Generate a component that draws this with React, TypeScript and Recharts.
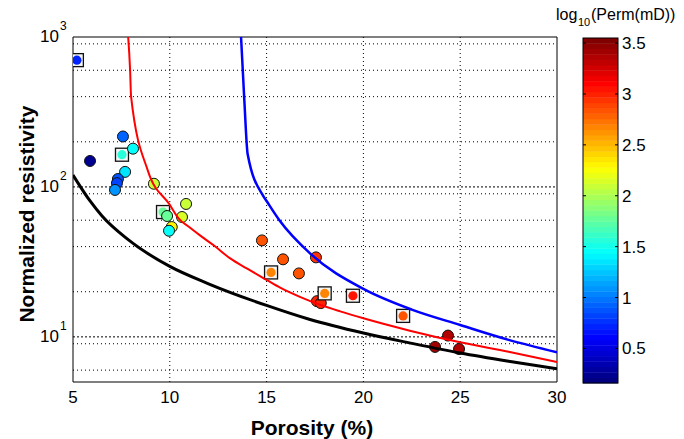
import React from 'react';
import { ScatterChart, Scatter, XAxis, YAxis, CartesianGrid, ReferenceArea } from 'recharts';

// measured samples: porosity (%), normalized resistivity, log10 permeability (mD)
const samplePhi = [5.2, 5.88, 7.58, 7.53, 8.1, 7.69, 7.32, 7.27, 7.17, 9.18, 9.65, 9.86, 10.84, 10.63, 10.1, 9.96, 14.76, 15.23, 15.85, 16.67, 17.55, 17.6, 17.8, 18.0, 19.46, 22.05, 24.37, 23.7, 24.94];
const sampleRes = [701, 149, 217, 164, 180, 126, 113, 106, 95.5, 105, 68, 64, 77, 63, 54, 51, 44, 26.9, 32.9, 26.5, 33.9, 17.3, 16.8, 19.5, 18.8, 13.8, 10.2, 8.57, 8.3];
const sampleLogPerm = [0.7, 0.2, 0.9, 1.55, 1.45, 1.35, 0.85, 0.8, 1.1, 2.1, 1.8, 1.8, 2.1, 2.15, 2.3, 1.45, 2.85, 2.7, 2.85, 2.85, 2.95, 3.0, 3.0, 2.7, 3.05, 2.85, 3.4, 3.45, 3.4];
const sampleIsSquare = [true, false, false, true, false, false, false, false, false, false, true, false, false, false, false, false, false, true, false, false, false, false, false, true, true, true, false, false, false];

// model curves
const blackPhi = [5, 5.9, 6.5, 7.8, 10, 12, 15, 17.2, 20, 22.5, 25, 27.5, 30];
const blackRes = [120, 80, 64, 45, 29.5, 22.6, 16.2, 13.1, 10.6, 9.05, 7.8, 6.87, 6.12];
const redPhi = [7.85, 7.95, 8.0, 8.87, 10.0, 10.44, 11.0, 11.56, 12.3, 13.1, 14, 15, 15.7, 16.72, 17.75, 18.8, 20, 22.4, 25, 27.5, 30];
const redRes = [1000, 600, 400, 128, 76, 62, 54, 47.5, 40.5, 33.5, 28.5, 24, 21.3, 18.5, 16.4, 14.8, 13.3, 11, 9.2, 7.95, 6.8];
const bluePhi = [13.68, 13.85, 14.02, 14.83, 15.0, 15.66, 17.3, 20, 22.5, 25, 27.5, 30];
const blueRes = [1000, 378, 166, 87, 80.5, 60, 35.5, 20.9, 15.2, 12, 9.55, 7.9];

const xTicks = [5, 10, 15, 20, 25, 30];
const yTicks = [10, 100, 1000];
const yMinorGrid = [6, 7, 8, 9, 20, 30, 40, 50, 60, 70, 80, 90, 200, 300, 400, 500, 600, 700, 800, 900];
const yMajorGrid = [10, 100];
const xGrid = [10, 15, 20, 25];
const cbarTicks = [0.5, 1, 1.5, 2, 2.5, 3, 3.5];
const cMin = 0.16;
const cMax = 3.55;

const FONT = '"Liberation Sans", Arial, Helvetica, sans-serif';

const jet = (t: number) => {
  const c = (v: number) => Math.round(255 * Math.max(0, Math.min(1, v)));
  return `rgb(${c(1.5 - Math.abs(4 * t - 3))},${c(1.5 - Math.abs(4 * t - 2))},${c(1.5 - Math.abs(4 * t - 1))})`;
};
const colorOf = (v: number) => {
  const idx = Math.round(Math.max(0, Math.min(1, (v - cMin) / (cMax - cMin))) * 63);
  return jet(idx / 63);
};

const samples = samplePhi.map((x, i) => ({ x, y: sampleRes[i], perm: sampleLogPerm[i], sq: sampleIsSquare[i] }));
const toLine = (xs: number[], ys: number[]) => xs.map((x, i) => ({ x, y: ys[i] }));
const blackLine = toLine(blackPhi, blackRes);
const redLine = toLine(redPhi, redRes);
const blueLine = toLine(bluePhi, blueRes);

const Marker = (props: any) => {
  const { cx, cy, payload } = props;
  const fill = colorOf(payload.perm);
  if (payload.sq) {
    return (
      <g>
        <rect x={cx - 6.5} y={cy - 6.5} width={13} height={13} fill="#f4f4f4" stroke="#111" strokeWidth={1.3} />
        <circle cx={cx} cy={cy} r={4.6} fill={fill} />
      </g>
    );
  }
  return <circle cx={cx} cy={cy} r={5.5} fill={fill} stroke="#111" strokeWidth={1} />;
};

const NoDot = () => <g />;

const XTick = ({ x, y, payload }: any) => (
  <text x={x} y={y + 21} textAnchor="middle" fontSize={17} fontFamily={FONT} fill="#000">
    {payload.value}
  </text>
);

const YTick = ({ x, y, payload }: any) => (
  <g fontFamily={FONT} fill="#000">
    <text x={x - 14} y={y + 5} textAnchor="end" fontSize={17}>10</text>
    <text x={x - 13} y={y - 7} fontSize={12}>{Math.round(Math.log10(payload.value))}</text>
  </g>
);

const Colorbar = () => {
  const left = 583, top = 38, w = 35, h = 345;
  const yOf = (v: number) => top + h - ((v - cMin) / (cMax - cMin)) * h;
  const bands = Array.from({ length: 64 }, (_, i) => i);
  return (
    <svg width={684} height={439} style={{ position: 'absolute', left: 0, top: 0, pointerEvents: 'none' }}>
      <g fontFamily={FONT} fill="#000">
        <text x={556} y={20} fontSize={16}>log</text>
        <text x={578} y={26} fontSize={11}>10</text>
        <text x={591} y={20} fontSize={16}>(Perm(mD))</text>
      </g>
      {bands.map((i) => (
        <rect key={i} x={left} y={top + h - ((i + 1) * h) / 64} width={w} height={h / 64 + 0.4} fill={jet(i / 63)} />
      ))}
      <rect x={left} y={top} width={w} height={h} fill="none" stroke="#000" strokeWidth={1} />
      {cbarTicks.map((v) => (
        <g key={v}>
          <line x1={left} x2={left + 3} y1={yOf(v)} y2={yOf(v)} stroke="#000" />
          <line x1={left + w - 3} x2={left + w} y1={yOf(v)} y2={yOf(v)} stroke="#000" />
          <text x={622} y={yOf(v) + 6} fontSize={17} fontFamily={FONT} fill="#000">{v}</text>
        </g>
      ))}
      <text x={312} y={435} textAnchor="middle" fontSize={21} fontWeight="bold" fontFamily={FONT} fill="#000">
        Porosity (%)
      </text>
      <text
        transform="translate(34,214) rotate(-90)"
        textAnchor="middle"
        fontSize={21}
        fontWeight="bold"
        fontFamily={FONT}
        fill="#000"
      >
        Normalized resistivity
      </text>
    </svg>
  );
};

export default function App() {
  return (
    <div style={{ position: 'absolute', left: 0, top: 0, width: 684, height: 439, background: '#fff', fontFamily: FONT }}>
      <ScatterChart width={684} height={439} margin={{ top: 37, right: 127, bottom: 27, left: 13 }}>
        <CartesianGrid horizontal={false} verticalValues={xGrid} stroke="#000" strokeDasharray="1 3" />
        <CartesianGrid vertical={false} horizontalValues={yMinorGrid} stroke="#000" strokeDasharray="1 3" />
        <CartesianGrid vertical={false} horizontalValues={yMajorGrid} stroke="#000" strokeDasharray="2 2" />
        <XAxis
          type="number"
          dataKey="x"
          domain={[5, 30]}
          ticks={xTicks}
          allowDataOverflow
          tickLine={false}
          axisLine={false}
          tickSize={0}
          tickMargin={0}
          height={30}
          tick={<XTick />}
        />
        <YAxis
          type="number"
          dataKey="y"
          scale="log"
          domain={[5, 1000]}
          ticks={yTicks}
          allowDataOverflow
          tickLine={false}
          axisLine={false}
          tickSize={0}
          tickMargin={0}
          width={60}
          tick={<YTick />}
        />
        <ReferenceArea x1={5} x2={30} y1={5} y2={1000} fill="none" stroke="#000" strokeWidth={1} />
        <Scatter data={samples} shape={<Marker />} isAnimationActive={false} />
        <Scatter data={blackLine} line={{ stroke: '#000', strokeWidth: 3 }} lineJointType="monotoneX" shape={<NoDot />} isAnimationActive={false} />
        <Scatter data={redLine} line={{ stroke: '#ff0000', strokeWidth: 2 }} lineJointType="monotoneX" shape={<NoDot />} isAnimationActive={false} />
        <Scatter data={blueLine} line={{ stroke: '#0000ff', strokeWidth: 2.5 }} lineJointType="monotoneX" shape={<NoDot />} isAnimationActive={false} />
      </ScatterChart>
      <Colorbar />
    </div>
  );
}
